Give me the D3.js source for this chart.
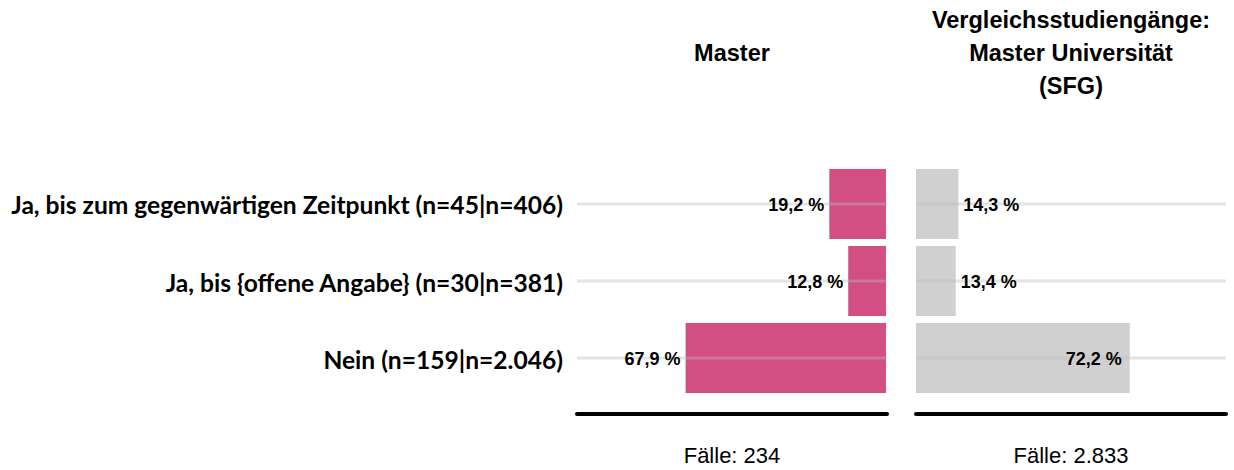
<!DOCTYPE html>
<html><head><meta charset="utf-8">
<script src="https://cdn.jsdelivr.net/npm/d3@7"></script>
<style>body{margin:0;background:#fff}svg{display:block}</style>
</head><body>
<script>
const categories = [
  "Ja, bis zum gegenwärtigen Zeitpunkt (n=45|n=406)",
  "Ja, bis {offene Angabe} (n=30|n=381)",
  "Nein (n=159|n=2.046)"
];
const masterValues = [19.2, 12.8, 67.9];
const compareValues = [14.3, 13.4, 72.2];
const panelTitles = [["Master"], ["Vergleichsstudiengänge:", "Master Universität", "(SFG)"]];
const caseLabels = ["Fälle: 234", "Fälle: 2.833"];
const fmt = v => d3.format(".1f")(v).replace(".", ",") + " %";

const W = 1234, H = 470;
const svg = d3.select("body").append("svg").attr("width", W).attr("height", H);

const y = d3.scaleBand().domain(categories).range([165.5, 396.5]).paddingInner(0.0909).paddingOuter(0.045);
const panels = [
  {x0: 577, x1: 887, values: masterValues, color: "#d34e82", reverse: true, title: panelTitles[0], cases: caseLabels[0]},
  {x0: 916, x1: 1226, values: compareValues, color: "#d0d0d0", reverse: false, title: panelTitles[1], cases: caseLabels[1]}
];
const sans = "Liberation Sans, Arial, sans-serif";

panels.forEach(p => {
  const x = d3.scaleLinear().domain([0, 104.7]).range(p.reverse ? [p.x1 - 1, p.x0] : [p.x0, p.x1]);
  const g = svg.append("g");
  const rows = categories.map((c, i) => ({c, v: p.values[i]}));
  g.selectAll("rect").data(rows).join("rect")
    .attr("x", d => Math.min(x(0), x(d.v)))
    .attr("width", d => Math.abs(x(d.v) - x(0)))
    .attr("y", d => y(d.c)).attr("height", y.bandwidth())
    .attr("fill", p.color);
  g.selectAll("line.grid").data(rows).join("line").attr("class", "grid")
    .attr("x1", p.x0).attr("x2", p.x1)
    .attr("y1", d => y(d.c) + y.bandwidth() / 2).attr("y2", d => y(d.c) + y.bandwidth() / 2)
    .attr("stroke", "#bcbcbc").attr("stroke-opacity", 0.4).attr("stroke-width", 3);
  g.selectAll("text.val").data(rows).join("text").attr("class", "val")
    .attr("font-family", sans).attr("font-weight", "bold").attr("font-size", 18)
    .attr("dominant-baseline", "central")
    .attr("y", d => y(d.c) + y.bandwidth() / 2 + 1)
    .each(function(d) {
      const t = d3.select(this);
      if (p.reverse) { t.attr("x", x(d.v) - 5).attr("text-anchor", "end"); }
      else if (d.v > 50) { t.attr("x", x(d.v) - 8).attr("text-anchor", "end"); }
      else { t.attr("x", x(d.v) + 5).attr("text-anchor", "start"); }
    })
    .text(d => fmt(d.v));
  g.append("line").attr("x1", p.x0).attr("x2", p.x1).attr("y1", 414).attr("y2", 414)
    .attr("stroke", "#000").attr("stroke-width", 4).attr("stroke-linecap", "round");
  const cx = (p.x0 + p.x1) / 2;
  g.append("text").attr("x", cx).attr("y", 463).attr("text-anchor", "middle")
    .attr("font-family", sans).attr("font-size", 22).text(p.cases);
  const base = p.title.length === 1 ? 61 : 28;
  p.title.forEach((line, i) => {
    g.append("text").attr("x", cx).attr("y", base + i * 33).attr("text-anchor", "middle")
      .attr("font-family", sans).attr("font-weight", "bold").attr("font-size", 23.5).text(line);
  });
});

svg.append("g").selectAll("text").data(categories).join("text")
  .attr("x", 563).attr("y", d => y(d) + y.bandwidth() / 2 + 1)
  .attr("text-anchor", "end").attr("dominant-baseline", "central")
  .attr("font-family", "Lato, sans-serif").attr("font-weight", "bold").attr("font-size", 24.6)
  .text(d => d);
</script>
</body></html>
